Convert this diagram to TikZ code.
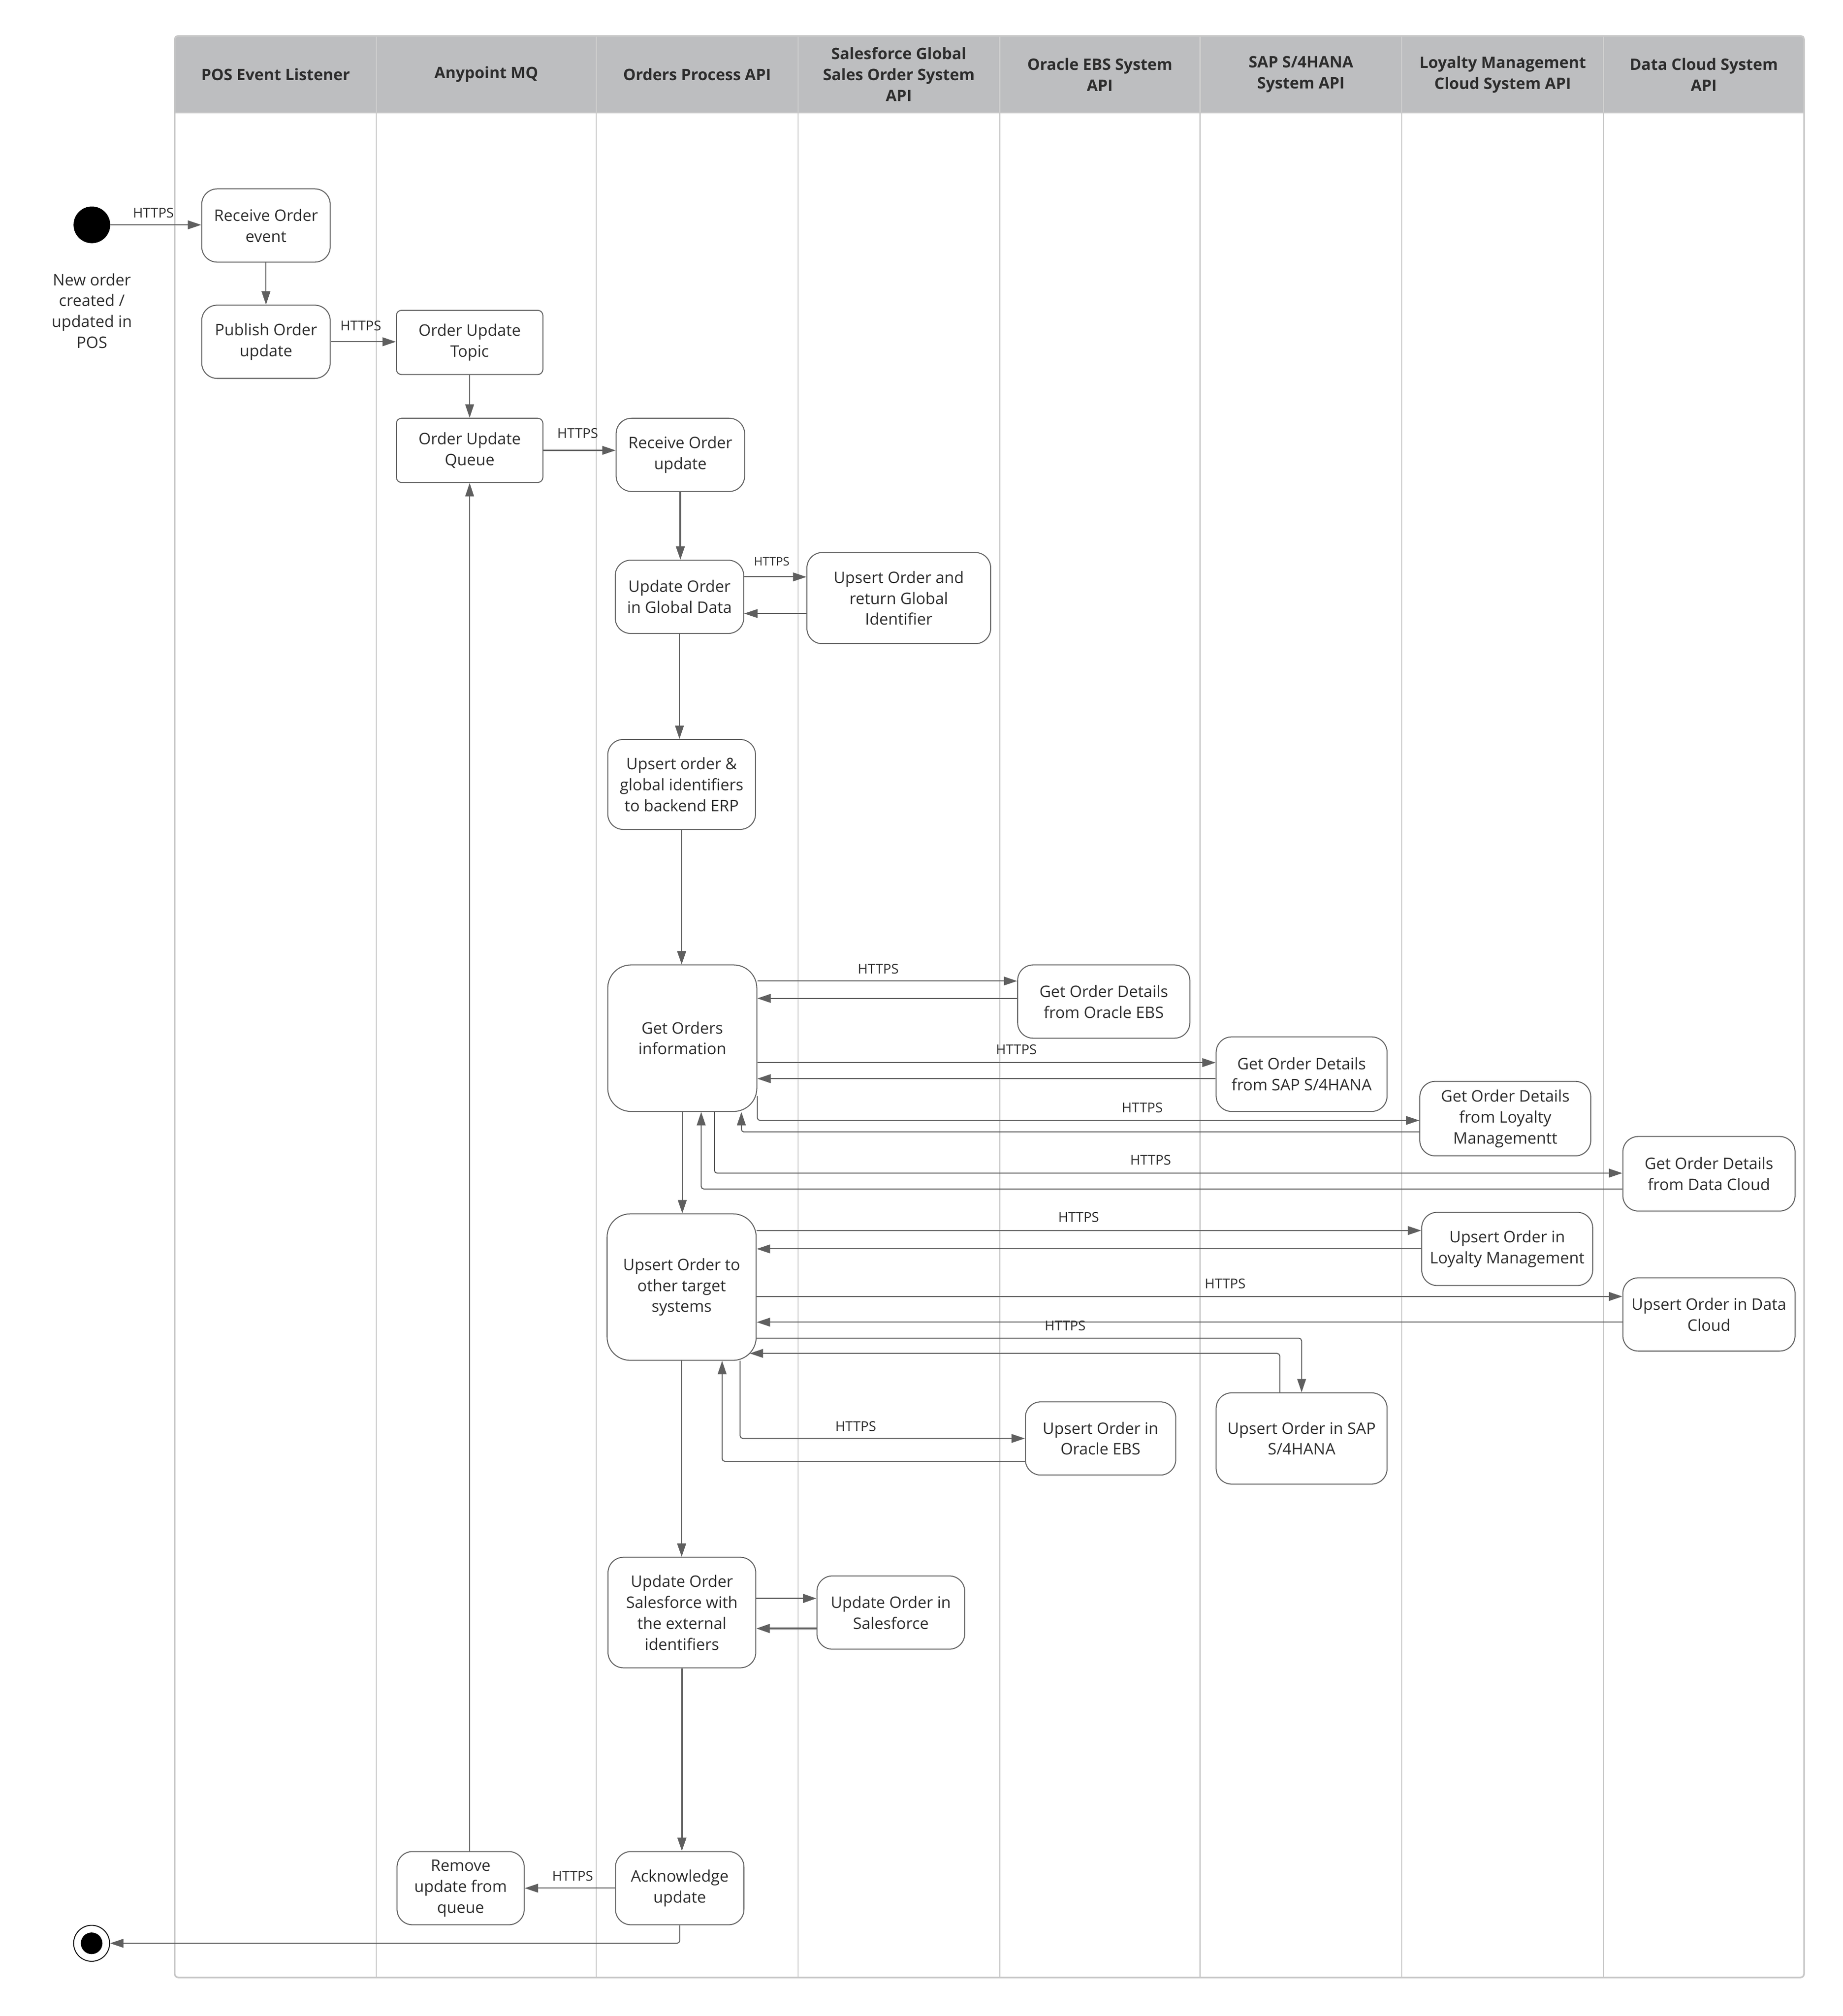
\documentclass[tikz,border=0pt]{standalone}
\usepackage{fontspec}
\setmainfont{Open Sans}
\usetikzlibrary{arrows.meta}
\definecolor{hdrgray}{RGB}{189,190,192}
\definecolor{lanegray}{RGB}{206,206,206}
\definecolor{framegray}{RGB}{200,200,200}
\definecolor{boxline}{RGB}{100,100,100}
\definecolor{flow}{RGB}{95,95,95}
\definecolor{txt}{RGB}{45,45,45}

\begin{document}
\begin{tikzpicture}[x=0.025cm,y=-0.025cm,
	act/.style={draw=boxline,line width=0.55pt,rounded corners=0.3cm,align=center,inner sep=0pt,text=txt,font=\fontsize{8.8}{11.6}\selectfont},
	big/.style={act,rounded corners=0.45cm},
	mq/.style={act,rounded corners=0.1cm},
	size/.style 2 args={minimum width=#1*0.025cm,minimum height=#2*0.025cm},
	lane/.style={align=center,text=txt,font=\fontsize{8.75}{11.6}\selectfont\bfseries},
	https/.style={text=txt,inner sep=0pt,font=\fontsize{7.5}{9}\selectfont},
	flowline/.style={draw=flow,line width=0.55pt,rounded corners=1.5pt,-{Triangle[length=0.26cm,width=0.17cm]}},
	thick flow/.style={flowline,line width=0.95pt}]
	\useasboundingbox (0,0) rectangle (1434,1569);
	% swimlanes
	\fill [hdrgray] (136,28) rectangle (1404,88);
	\foreach \x in {293,464,621,778,934,1091,1248}
		\draw [lanegray,line width=0.6pt] (\x,28) -- (\x,1539);
	\draw [framegray,line width=0.6pt] (136,88) -- (1404,88);
	\draw [framegray,line width=0.9pt,rounded corners=2pt] (136,28) rectangle (1404,1539);

	\node[lane] (hpos) at (214.5,58) {POS Event Listener};
	\node[lane] (hmq) at (378.5,58) {Anypoint MQ};
	\node[lane] (hopa) at (542.5,58) {Orders Process API};
	\node[lane] (hsf) at (699.5,58) {Salesforce Global\\Sales Order System\\API};
	\node[lane] (hebs) at (856,58) {Oracle EBS System\\API};
	\node[lane] (hsap) at (1012.5,58) {SAP S/4HANA\\System API};
	\node[lane] (hloy) at (1169.5,58) {Loyalty Management\\Cloud System API};
	\node[lane] (hdc) at (1326,58) {Data Cloud System\\API};

	% start / end
	\node[circle,draw=black,fill=black,minimum size=0.7cm,inner sep=0pt] (start) at (71.5,175) {};
	\node[align=center,text=txt,font=\fontsize{8.8}{11.6}\selectfont] (startlbl) at (71.5,242) {New order\\created /\\updated in\\POS};
	\node[circle,draw=black,line width=0.5pt,minimum size=0.7cm,inner sep=0pt] (stop) at (71.3,1512.4) {};
	\fill [black] (stop.center) circle (0.21cm);

	% POS + MQ
	\node[act,size={100}{57}] (recvevt) at (207,175.5) {Receive Order\\event};
	\node[act,size={100}{57}] (publish) at (207,266) {Publish Order\\update};
	\node[mq,size={114}{50}] (topic) at (365.5,266.5) {Order Update\\Topic};
	\node[mq,size={114}{50}] (queue) at (365.5,350.5) {Order Update\\Queue};
	\node[act,size={99}{57}] (remove) at (358.5,1469.5) {Remove\\update from\\queue};

	% process API
	\node[act,size={100}{57}] (recvupd) at (529.5,354) {Receive Order\\update};
	\node[act,size={100}{57}] (updglobal) at (528.8,464.5) {Update Order\\in Global Data};
	\node[act,size={115}{70}] (upserp) at (530.5,610.5) {Upsert order \&\\global identifiers\\to backend ERP};
	\node[big,size={116}{114}] (getinfo) at (531,808) {Get Orders\\information};
	\node[big,size={116}{114}] (upstgt) at (530.5,1001.7) {Upsert Order to\\other target\\systems};
	\node[act,size={115}{86}] (updsf) at (530.7,1255) {Update Order\\Salesforce with\\the external\\identifiers};
	\node[act,size={100}{57}] (ack) at (529,1469.5) {Acknowledge\\update};

	% system APIs
	\node[act,size={143}{71}] (upsglobal) at (699.5,465.5) {Upsert Order and\\return Global\\Identifier};
	\node[act,size={134}{57}] (getebs) at (859,779.5) {Get Order Details\\from Oracle EBS};
	\node[act,size={133}{58}] (getsap) at (1013,836) {Get Order Details\\from SAP S/4HANA};
	\node[act,size={133}{58}] (getloy) at (1171.5,870.6) {Get Order Details\\from Loyalty\\Managementt};
	\node[act,size={134}{58}] (getdc) at (1330,913.5) {Get Order Details\\from Data Cloud};
	\node[act,size={133}{57}] (upsloy) at (1173,972) {Upsert Order in\\Loyalty Management};
	\node[act,size={134}{57}] (upsdc) at (1330,1023) {Upsert Order in Data\\Cloud};
	\node[act,size={133}{71}] (upssap) at (1013,1119.5) {Upsert Order in SAP\\S/4HANA};
	\node[act,size={117}{57}] (upsebs) at (856.5,1119.5) {Upsert Order in\\Oracle EBS};
	\node[act,size={115}{57}] (updsfsf) at (693.3,1255) {Update Order in\\Salesforce};
	\coordinate (tgtin) at (583.5,1053.3);

	% connectors
	\draw[flowline] (start) -- (start -| recvevt.west);
	\draw[flowline] (recvevt) -- (publish);
	\draw[flowline] (publish) -- (publish -| topic.west);
	\draw[flowline] (topic) -- (queue);
	\draw[flowline] (queue) -- (queue -| recvupd.west);
	\draw[thick flow] (recvupd) -- (recvupd |- updglobal.north);
	\draw[flowline] (updglobal.east |- 0,449) -- (upsglobal.west |- 0,449);
	\draw[flowline] (upsglobal.west |- 0,477.5) -- (updglobal.east |- 0,477.5);
	\draw[flowline] (updglobal) -- (updglobal |- upserp.north);
	\draw[thick flow] (upserp) -- (upserp |- getinfo.north);

	\draw[flowline] (getinfo.east |- 0,763.5) -- (getebs.west |- 0,763.5);
	\draw[flowline] (getebs.west |- 0,777) -- (getinfo.east |- 0,777);
	\draw[flowline] (getinfo.east |- 0,827) -- (getsap.west |- 0,827);
	\draw[flowline] (getsap.west |- 0,839.5) -- (getinfo.east |- 0,839.5);
	\draw[flowline] (getinfo.east |- 0,853) |- (getloy.west |- 0,872);
	\draw[flowline] (getloy.west |- 0,881) -| (getinfo.south -| 577,0);
	\draw[flowline] (getinfo.south -| 556,0) |- (getdc.west |- 0,913);
	\draw[flowline] (getdc.west |- 0,925.4) -| (getinfo.south -| 545.7,0);
	\draw[flowline,line width=0.75pt] (getinfo) -- (getinfo |- upstgt.north);

	\draw[flowline] (upstgt.east |- 0,957.7) -- (upsloy.west |- 0,957.7);
	\draw[flowline] (upsloy.west |- 0,972) -- (upstgt.east |- 0,972);
	\draw[flowline] (upstgt.east |- 0,1009) -- (upsdc.west |- 0,1009);
	\draw[flowline] (upsdc.west |- 0,1029) -- (upstgt.east |- 0,1029);
	\draw[flowline] (upstgt.east |- 0,1041.5) -| (upssap.north);
	\draw[flowline] (upssap.north -| 996,0) |- (tgtin);
	\draw[flowline] (upstgt.south -| 576,0) |- (upsebs.west |- 0,1119.5);
	\draw[flowline] (upsebs.west |- 0,1137.3) -| (upstgt.south -| 562,0);
	\draw[thick flow] (upstgt) -- (upstgt |- updsf.north);
	\draw[thick flow] (updsf.east |- 0,1244) -- (updsfsf.west |- 0,1244);
	\draw[thick flow] (updsfsf.west |- 0,1267.4) -- (updsf.east |- 0,1267.4);
	\draw[thick flow] (updsf) -- (updsf |- ack.north);
	\draw[flowline] (ack) -- (ack -| remove.east);
	\draw[flowline,line width=0.4pt] (queue.south |- remove.north) -- (queue.south);
	\draw[flowline] (ack.south) |- (stop.east);

	% labels
	\node[https] (h1) at (119.4,165.7) {HTTPS};
	\node[https] (h2) at (280.8,253.4) {HTTPS};
	\node[https] (h3) at (449.6,337.2) {HTTPS};
	\node[https,font=\fontsize{6.5}{8}\selectfont] (h4) at (600.6,437) {HTTPS};
	\node[https] (h5) at (683.5,754) {HTTPS};
	\node[https] (h6) at (791,817) {HTTPS};
	\node[https] (h7) at (889,862) {HTTPS};
	\node[https] (h8) at (895.5,903) {HTTPS};
	\node[https] (h9) at (839.5,947.5) {HTTPS};
	\node[https] (h10) at (953.5,999) {HTTPS};
	\node[https] (h11) at (829,1031.6) {HTTPS};
	\node[https] (h12) at (666,1110) {HTTPS};
	\node[https] (h13) at (445.7,1460) {HTTPS};
\end{tikzpicture}
\end{document}
